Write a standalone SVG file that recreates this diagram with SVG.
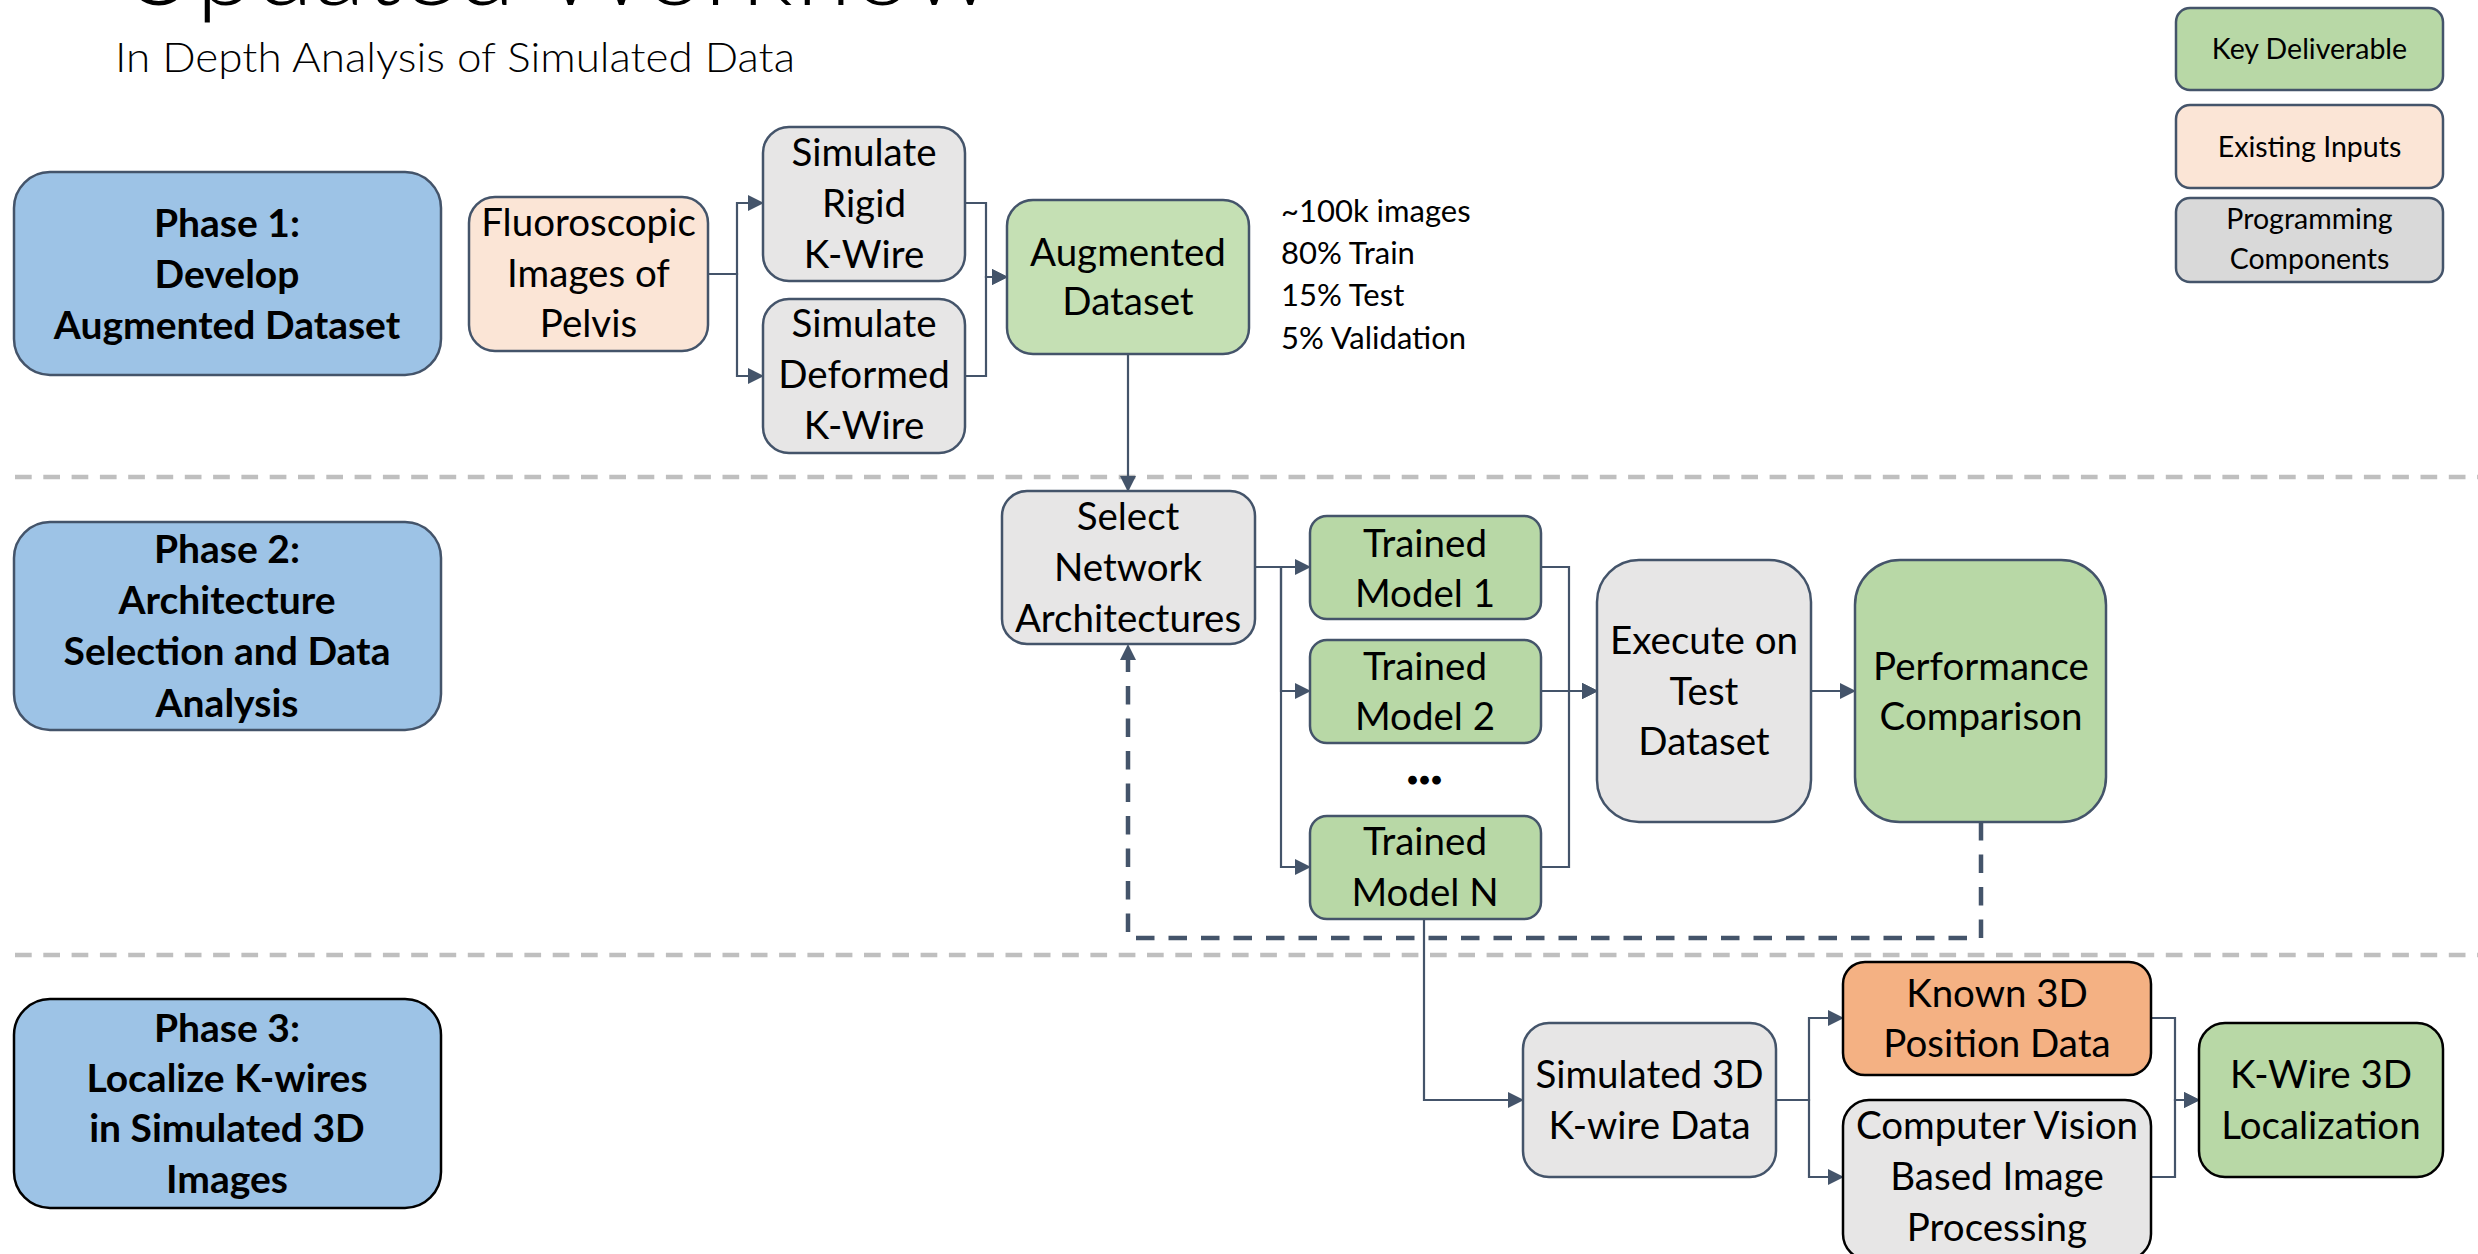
<svg xmlns="http://www.w3.org/2000/svg" width="2478" height="1254" viewBox="0 0 2478 1254">
<defs>
<marker id="ah" markerUnits="userSpaceOnUse" markerWidth="16" markerHeight="16" viewBox="0 0 16 16" refX="15" refY="8" orient="auto"><path d="M0,0 L16,8 L0,16 Z" fill="#44546a"/></marker>
<style>
text{font-family:Lato,"Open Sans","Liberation Sans",sans-serif;fill:#000}
.n{font-size:38.5px;text-anchor:middle}
.p{font-size:39px;font-weight:700;text-anchor:middle}
.lg{font-size:28.5px;text-anchor:middle}
.an{font-size:31px}
.b{stroke:#44546a;stroke-width:2.5}
.k{stroke:#000;stroke-width:2.5}
.ph{fill:#9dc3e6}
.gr{fill:#e7e6e6}
.pe{fill:#fbe5d6}
.g1{fill:#c5e0b4}
.g2{fill:#b8d8a6}
.or{fill:#f4b183}
.c{fill:none;stroke:#44546a;stroke-width:2.2;marker-end:url(#ah)}
.d{fill:none;stroke:#44546a;stroke-width:4.5;stroke-dasharray:18.5 14;marker-end:url(#ah)}
.sep{stroke:#bfbfbf;stroke-width:4.5;stroke-dasharray:16.7 11.6}
</style>
</defs>
<rect width="2478" height="1254" fill="#fff"/>
<text x="120" y="5" style="font-size:100px;font-weight:300" textLength="873" lengthAdjust="spacingAndGlyphs">Updated Workflow</text>
<text x="115" y="72" style="font-size:42px;font-weight:300" textLength="680" lengthAdjust="spacingAndGlyphs">In Depth Analysis of Simulated Data</text>
<g id="separators">
<line class="sep" x1="15" y1="477" x2="2478" y2="477"/>
<line class="sep" x1="15" y1="955" x2="2478" y2="955"/>
</g>
<g id="connectors">
<path class="c" d="M708,274 H737 V203 H763"/>
<path class="c" d="M708,274 H737 V376 H763"/>
<path class="c" d="M965,203 H986 V277 H1007"/>
<path class="c" d="M965,376 H986 V277 H1007"/>
<path class="c" d="M1128,354 V491"/>
<path class="c" d="M1255,567 H1310"/>
<path class="c" d="M1255,567 H1281 V691 H1310"/>
<path class="c" d="M1255,567 H1281 V867 H1310"/>
<path class="c" d="M1541,567 H1569 V691 H1597"/>
<path class="c" d="M1541,691 H1597"/>
<path class="c" d="M1541,867 H1569 V691 H1597"/>
<path class="c" d="M1811,691 H1855"/>
<path class="d" d="M1981,822 V938 H1128 V645"/>
<path class="c" d="M1424,919 V1100 H1523"/>
<path class="c" d="M1776,1100 H1809 V1018 H1843"/>
<path class="c" d="M1776,1100 H1809 V1177 H1843"/>
<path class="c" d="M2151,1018 H2175 V1100 H2199"/>
<path class="c" d="M2151,1177 H2175 V1100 H2199"/>
</g>
<g id="phase1"><rect class="ph b" x="14" y="172" width="427" height="203" rx="36"/>
<text class="p" x="227" y="237">Phase 1:</text><text class="p" x="227" y="288">Develop</text><text class="p" x="227" y="339">Augmented Dataset</text></g>
<g id="phase2"><rect class="ph b" x="14" y="522" width="427" height="208" rx="36"/>
<text class="p" x="227" y="563">Phase 2:</text><text class="p" x="227" y="614">Architecture</text><text class="p" x="227" y="665">Selection and Data</text><text class="p" x="227" y="717">Analysis</text></g>
<g id="phase3"><rect class="ph k" x="14" y="999" width="427" height="209" rx="36"/>
<text class="p" x="227" y="1042">Phase 3:</text><text class="p" x="227" y="1092">Localize K-wires</text><text class="p" x="227" y="1142">in Simulated 3D</text><text class="p" x="227" y="1193">Images</text></g>
<g id="fluoro"><rect class="pe b" x="469" y="197" width="239" height="154" rx="26"/>
<text class="n" x="588.5" y="236">Fluoroscopic</text><text class="n" x="588.5" y="287">Images of</text><text class="n" x="588.5" y="337">Pelvis</text></g>
<g id="rigid"><rect class="gr b" x="763" y="127" width="202" height="154" rx="26"/>
<text class="n" x="864" y="166">Simulate</text><text class="n" x="864" y="217">Rigid</text><text class="n" x="864" y="268">K-Wire</text></g>
<g id="deformed"><rect class="gr b" x="763" y="299" width="202" height="154" rx="26"/>
<text class="n" x="864" y="337">Simulate</text><text class="n" x="864" y="388">Deformed</text><text class="n" x="864" y="439">K-Wire</text></g>
<g id="augmented"><rect class="g1 b" x="1007" y="200" width="242" height="154" rx="26"/>
<text class="n" x="1128" y="266">Augmented</text><text class="n" x="1128" y="315">Dataset</text></g>
<g id="split"><text class="an" x="1281" y="222">~100k images</text><text class="an" x="1281" y="264">80% Train</text><text class="an" x="1281" y="306">15% Test</text><text class="an" x="1281" y="349">5% Validation</text></g>
<g id="select"><rect class="gr b" x="1002" y="491" width="253" height="153" rx="25"/>
<text class="n" x="1128" y="530">Select</text><text class="n" x="1128" y="581">Network</text><text class="n" x="1128" y="632">Architectures</text></g>
<g id="model1"><rect class="g2 b" x="1310" y="516" width="231" height="103" rx="17"/>
<text class="n" x="1425" y="557">Trained</text><text class="n" x="1425" y="607">Model 1</text></g>
<g id="model2"><rect class="g2 b" x="1310" y="640" width="231" height="103" rx="17"/>
<text class="n" x="1425" y="680">Trained</text><text class="n" x="1425" y="730">Model 2</text></g>
<text x="1426" y="783" style="font-size:38px;font-weight:700;text-anchor:middle;letter-spacing:3px;stroke:#000;stroke-width:3">...</text>
<g id="modelN"><rect class="g2 b" x="1310" y="816" width="231" height="103" rx="17"/>
<text class="n" x="1425" y="855">Trained</text><text class="n" x="1425" y="906">Model N</text></g>
<g id="execute"><rect class="gr b" x="1597" y="560" width="214" height="262" rx="42"/>
<text class="n" x="1704" y="654">Execute on</text><text class="n" x="1704" y="705">Test</text><text class="n" x="1704" y="755">Dataset</text></g>
<g id="performance"><rect class="g2 b" x="1855" y="560" width="251" height="262" rx="45"/>
<text class="n" x="1981" y="680">Performance</text><text class="n" x="1981" y="730">Comparison</text></g>
<g id="sim3d"><rect class="gr b" x="1523" y="1023" width="253" height="154" rx="26"/>
<text class="n" x="1649.5" y="1088">Simulated 3D</text><text class="n" x="1649.5" y="1139">K-wire Data</text></g>
<g id="known"><rect class="or k" x="1843" y="962" width="308" height="113" rx="22"/>
<text class="n" x="1997" y="1007">Known 3D</text><text class="n" x="1997" y="1057">Position Data</text></g>
<g id="cv"><rect class="gr k" x="1843" y="1100" width="308" height="160" rx="26"/>
<text class="n" x="1997" y="1139">Computer Vision</text><text class="n" x="1997" y="1190">Based Image</text><text class="n" x="1997" y="1241">Processing</text></g>
<g id="kwire"><rect class="g2 k" x="2199" y="1023" width="244" height="154" rx="26"/>
<text class="n" x="2321" y="1088">K-Wire 3D</text><text class="n" x="2321" y="1139">Localization</text></g>
<g id="legend-key"><rect class="g2 b" x="2176" y="8" width="267" height="82" rx="14"/>
<text class="lg" x="2309.5" y="59">Key Deliverable</text></g>
<g id="legend-existing"><rect class="pe b" x="2176" y="105" width="267" height="83" rx="14"/>
<text class="lg" x="2309.5" y="157">Existing Inputs</text></g>
<g id="legend-programming"><rect class="b" style="fill:#d9d9d9" x="2176" y="198" width="267" height="84" rx="14"/>
<text class="lg" x="2309.5" y="229">Programming</text><text class="lg" x="2309.5" y="269">Components</text></g>
</svg>
